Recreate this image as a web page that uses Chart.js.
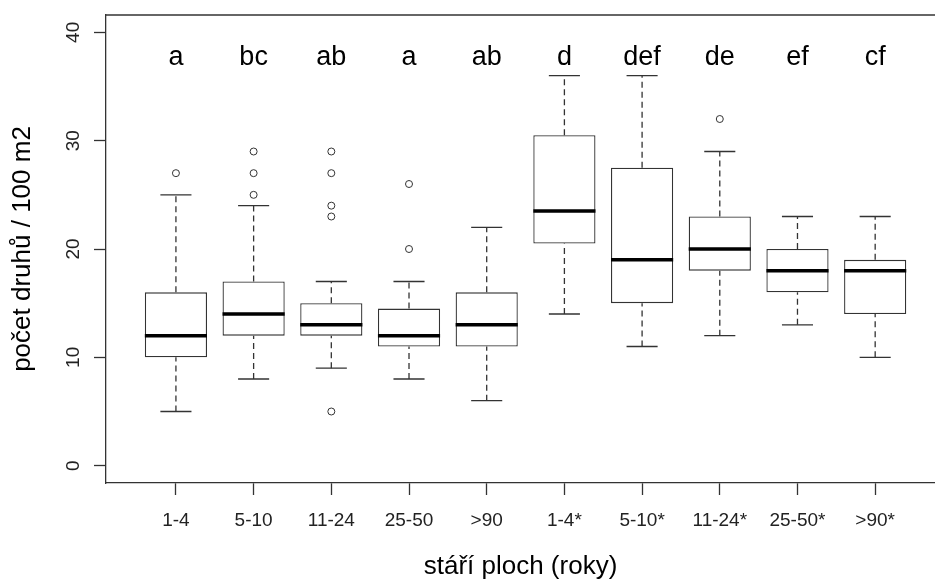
<!DOCTYPE html>
<html>
<head>
<meta charset="utf-8">
<script src="https://cdn.jsdelivr.net/npm/chart.js@4/dist/chart.umd.min.js"></script>
<style>
  body { margin: 0; background: #fff; }
</style>
</head>
<body>
<canvas id="boxChart" width="935" height="580"></canvas>
<script>
// Box plot data
const categories = ["1-4", "5-10", "11-24", "25-50", ">90", "1-4*", "5-10*", "11-24*", "25-50*", ">90*"];
const whiskerLow = [5, 8, 9, 8, 6, 14, 11, 12, 13, 10];
const q1 = [10, 12, 12, 11, 11, 20.5, 15, 18, 16, 14];
const median = [12, 14, 13, 12, 13, 23.5, 19, 20, 18, 18];
const q3 = [16, 17, 15, 14.5, 16, 30.5, 27.5, 23, 20, 19];
const whiskerHigh = [25, 24, 17, 17, 22, 36, 36, 29, 23, 23];
const outliers = [[27], [25, 27, 29], [5, 23, 24, 27, 29], [20, 26], [], [], [], [32], [], []];
const letters = ["a", "bc", "ab", "a", "ab", "d", "def", "de", "ef", "cf"];
const yTicks = [0, 10, 20, 30, 40];

const font = "'Liberation Sans', Arial, sans-serif";
const lineColor = "#333";
const letterLevel = 37;

// build line segments (gaps between groups)
const whiskerPts = [];
const capPts = [];
const medianPts = [];
const outlierPts = [];
categories.forEach((c, i) => {
    const x = i + 1;
    whiskerPts.push({ x: x, y: whiskerLow[i] }, { x: x, y: q1[i] }, { x: x, y: null });
    whiskerPts.push({ x: x, y: q3[i] }, { x: x, y: whiskerHigh[i] }, { x: x, y: null });
    capPts.push({ x: x - 0.2, y: whiskerLow[i] }, { x: x + 0.2, y: whiskerLow[i] }, { x: x, y: null });
    capPts.push({ x: x - 0.2, y: whiskerHigh[i] }, { x: x + 0.2, y: whiskerHigh[i] }, { x: x, y: null });
    medianPts.push({ x: x - 0.4, y: median[i] }, { x: x + 0.4, y: median[i] }, { x: x, y: null });
    outliers[i].forEach(v => outlierPts.push({ x: x, y: v }));
});

// frame top line + group letters
const extras = {
    id: "extras",
    afterDatasetsDraw(chart) {
        const { ctx, chartArea, scales } = chart;
        ctx.save();
        ctx.strokeStyle = lineColor;
        ctx.lineWidth = 1.3;
        ctx.beginPath();
        ctx.moveTo(chartArea.left, chartArea.top);
        ctx.lineTo(chartArea.right, chartArea.top);
        ctx.stroke();

        ctx.fillStyle = "#000";
        ctx.font = "27px " + font;
        ctx.textAlign = "center";
        ctx.textBaseline = "alphabetic";
        letters.forEach((t, i) => {
            ctx.fillText(t, scales.x.getPixelForValue(i + 1), scales.y.getPixelForValue(letterLevel));
        });
        ctx.restore();
    },
};

const ctx = document.getElementById("boxChart").getContext("2d");
new Chart(ctx, {
    type: "bar",
    data: {
        datasets: [
            {
                type: "scatter",
                data: outlierPts,
                pointRadius: 3.5,
                pointBackgroundColor: "#fff",
                pointBorderColor: lineColor,
                pointBorderWidth: 1,
                order: 0,
            },
            {
                type: "line",
                data: medianPts,
                borderColor: "#000",
                borderWidth: 3.5,
                borderCapStyle: "butt",
                pointRadius: 0,
                order: 1,
            },
            {
                type: "line",
                data: capPts,
                borderColor: lineColor,
                borderWidth: 1.3,
                pointRadius: 0,
                order: 2,
            },
            {
                type: "line",
                data: whiskerPts,
                borderColor: lineColor,
                borderWidth: 1.3,
                borderDash: [6, 4],
                pointRadius: 0,
                order: 2,
            },
            {
                type: "bar",
                data: categories.map((c, i) => ({ x: i + 1, y: [q1[i], q3[i]] })),
                backgroundColor: "#fff",
                borderColor: lineColor,
                borderWidth: 1.3,
                borderSkipped: false,
                categoryPercentage: 0.8,
                barPercentage: 1,
                order: 3,
            },
        ],
    },
    options: {
        responsive: false,
        animation: false,
        layout: { autoPadding: false, padding: { top: 15, left: 0, right: 0, bottom: 0 } },
        plugins: {
            legend: { display: false },
            tooltip: { enabled: false },
        },
        scales: {
            x: {
                type: "linear",
                min: 0.1,
                max: 10.77,
                offset: false,
                afterFit(s) {
                    s.height = 97;
                    s.paddingLeft = 0;
                    s.paddingRight = 0;
                },
                afterBuildTicks(s) {
                    s.ticks = categories.map((c, i) => ({ value: i + 1 }));
                },
                ticks: {
                    callback: v => categories[v - 1],
                    autoSkip: false,
                    maxRotation: 0,
                    padding: 14,
                    color: "#222",
                    font: { family: font, size: 19 },
                },
                grid: { offset: false, drawOnChartArea: false, tickLength: 12, tickColor: lineColor, tickWidth: 1.3 },
                border: { display: true, color: lineColor, width: 1.3 },
                title: {
                    display: true,
                    text: "stáří ploch (roky)",
                    color: "#000",
                    font: { family: font, size: 26, lineHeight: 1 },
                    padding: { top: 0, bottom: 0.5 },
                },
            },
            y: {
                min: -1.6,
                max: 41.6,
                afterFit(s) {
                    s.width = 106;
                    s.paddingTop = 0;
                    s.paddingBottom = 0;
                },
                afterBuildTicks(s) {
                    s.ticks = yTicks.map(v => ({ value: v }));
                },
                ticks: {
                    minRotation: 90,
                    maxRotation: 90,
                    crossAlign: "center",
                    padding: 10,
                    color: "#222",
                    font: { family: font, size: 19 },
                },
                grid: { drawOnChartArea: false, tickLength: 12, tickColor: lineColor, tickWidth: 1.3 },
                border: { display: true, color: lineColor, width: 1.3 },
                title: {
                    display: true,
                    text: "počet druhů / 100 m2",
                    color: "#000",
                    font: { family: font, size: 26, lineHeight: 1 },
                    padding: { top: 10, bottom: 0 },
                },
            },
        },
    },
    plugins: [extras],
});
</script>
</body>
</html>
